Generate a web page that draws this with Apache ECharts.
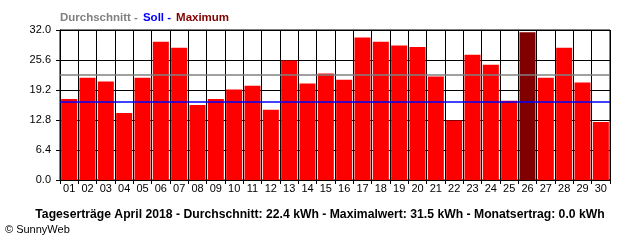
<!DOCTYPE html>
<html>
<head>
<meta charset="utf-8">
<script src="https://cdn.jsdelivr.net/npm/echarts@6/dist/echarts.min.js"></script>
<style>html,body{margin:0;padding:0;background:#fff}#c{width:640px;height:240px}</style>
</head>
<body>
<div id="c"></div>
<script>
const days = ['01','02','03','04','05','06','07','08','09','10','11','12','13','14','15','16','17','18','19','20','21','22','23','24','25','26','27','28','29','30'];
const yields = [17.3,21.8,21.0,14.3,21.8,29.5,28.2,16.0,17.3,19.3,20.1,15.0,25.5,20.6,22.7,21.4,30.4,29.5,28.7,28.4,22.1,12.7,26.7,24.6,16.9,31.5,21.8,28.2,20.8,12.4];
const average = 22.4;
const target = 16.8;
const maxDay = '26';
const yTicks = [0, 6.4, 12.8, 19.2, 25.6, 32];
const footerText = 'Tageserträge April 2018 - Durchschnitt: 22.4 kWh - Maximalwert: 31.5 kWh - Monatsertrag: 0.0 kWh';
const FONT = '"Liberation Sans", Arial, sans-serif';

const chart = echarts.init(document.getElementById('c'), null, {renderer: 'canvas'});
chart.setOption({
  animation: false,
  backgroundColor: '#fff',
  textStyle: {fontFamily: FONT},
  title: [{
    left: 55, top: 4,
    text: '{g|Durchschnitt -} {b|Soll -} {r|Maximum}',
    textStyle: {
      rich: {
        g: {color: '#808080', fontWeight: 'bold', fontSize: 11.5, fontFamily: FONT},
        b: {color: '#0000ff', fontWeight: 'bold', fontSize: 11.5, fontFamily: FONT},
        r: {color: '#800000', fontWeight: 'bold', fontSize: 11.5, fontFamily: FONT}
      }
    }
  }, {
    left: 'center', top: 204,
    text: footerText,
    textStyle: {color: '#000', fontWeight: 'bold', fontSize: 12.2, fontFamily: FONT}
  }, {
    left: 0, top: 219,
    text: '© SunnyWeb',
    textStyle: {color: '#000', fontWeight: 'normal', fontSize: 11, fontFamily: FONT}
  }],
  grid: {left: 60, right: 30, top: 30, bottom: 60, show: true, borderColor: '#000', borderWidth: 1, backgroundColor: 'transparent'},
  xAxis: {
    type: 'category',
    data: days,
    boundaryGap: true,
    axisLine: {lineStyle: {color: '#000', width: 1}},
    axisTick: {show: true, alignWithLabel: false, length: 4, lineStyle: {color: '#000'}},
    splitLine: {show: true, lineStyle: {color: '#000', width: 1}},
    axisLabel: {color: '#000', fontSize: 11, margin: 3, interval: 0, fontFamily: FONT}
  },
  yAxis: {
    type: 'value',
    min: 0, max: 32, interval: 6.4,
    axisLine: {show: true, lineStyle: {color: '#000', width: 1}},
    axisTick: {show: true, length: 4, lineStyle: {color: '#000'}},
    splitLine: {show: true, lineStyle: {color: '#000', width: 1}},
    axisLabel: {color: '#000', fontSize: 11, margin: 9, fontFamily: FONT, formatter: v => v.toFixed(1)}
  },
  series: [{
    type: 'bar',
    data: yields.map((v, i) => ({value: v, itemStyle: {color: days[i] === maxDay ? '#800000' : '#ff0000'}})),
    barWidth: 16,
    markLine: {
      silent: true,
      symbol: 'none',
      label: {show: false},
      z: 10,
      data: [
        {yAxis: average, lineStyle: {color: '#808080', width: 1.5, type: 'solid'}},
        {yAxis: target, lineStyle: {color: '#0000ff', width: 1.5, type: 'solid'}}
      ]
    }
  }]
});
</script>
</body>
</html>
